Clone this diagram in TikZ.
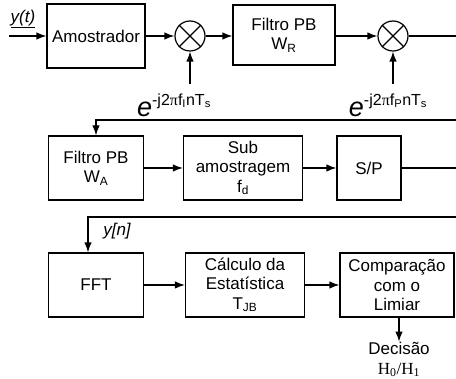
\documentclass[tikz,border=0pt]{standalone}
\usepackage{fontspec}
\setmainfont{Liberation Sans}
\newfontfamily\seriffont{Liberation Serif}
\usetikzlibrary{arrows.meta}

\tikzset{
  block/.style={draw, line width=1.2pt, inner sep=0pt, align=center,
    minimum height=64pt, font=\fontsize{17}{19.5}\selectfont},
  mult/.style={draw, circle, line width=1.2pt, inner sep=0pt, minimum size=30pt},
  flow/.style={line width=1.2pt, -{Latex[length=10pt,width=7.5pt]}},
  wire/.style={line width=1.2pt},
  lbl/.style={inner sep=0pt, font=\fontsize{17}{19}\selectfont},
}
\newcommand{\expo}[1]{{\fontsize{27}{27}\selectfont\itshape e}\raisebox{11pt}{\fontsize{16}{16}\selectfont -j2{\seriffont π}f\textsubscript{#1}nT\textsubscript{s}}}

\begin{document}
\begin{tikzpicture}[x=1pt,y=-1pt]
  \useasboundingbox (0,0) rectangle (456,379);
  % first row
  \node[lbl, font=\fontsize{17}{19}\selectfont\itshape] (yt) at (23,19) {\underline{y(t)}};
  \coordinate (yin) at (9,36);
  \node[block, minimum width=98pt] (amo) at (96,36) {Amostrador};
  \node[mult] (m1) at (190,36) {};
  \node[block, minimum width=102pt, minimum height=60pt] (lpr) at (284,35) {Filtro PB\\W\textsubscript{R}};
  \node[mult] (m2) at (393,36) {};
  \coordinate (out1) at (456,36);
  \node[inner sep=0pt] (e1) at (174,105) {\expo{I}};
  \node[inner sep=0pt] (e2) at (388,105) {\expo{P}};
  \foreach \m in {m1,m2} {
    \draw[line width=1.1pt] (\m.north west) -- (\m.south east);
    \draw[line width=1.1pt] (\m.north east) -- (\m.south west);
  }
  \draw[flow] (yin) -- (amo);
  \draw[flow] (amo) -- (m1);
  \draw[flow] (m1) -- (lpr.west |- m1);
  \draw[flow] (lpr.east |- m2) -- (m2);
  \draw[wire] (m2) -- (out1);
  \draw[flow] (m1.south |- 0,84) -- (m1.south);
  \draw[flow] (m2.south |- 0,84) -- (m2.south);
  % second row
  \coordinate (in1) at (456,120);
  \node[block, minimum width=95pt] (lpa) at (96,168) {Filtro PB\\W\textsubscript{A}};
  \node[block, minimum width=119pt] (sub) at (243,168) {Sub\\amostragem\\f\textsubscript{d}};
  \node[block, minimum width=64pt] (sp) at (369,168) {S/P};
  \coordinate (out2) at (456,168);
  \draw[flow] (in1) -| (lpa.north);
  \draw[flow] (lpa) -- (sub);
  \draw[flow] (sub) -- (sp);
  \draw[wire] (sp) -- (out2);
  % third row
  \coordinate (in2) at (456,217);
  \node[lbl, font=\fontsize{17}{19}\selectfont\itshape] (yn) at (117,231) {y[n]};
  \node[block, minimum width=95pt] (fft) at (96,285) {FFT};
  \node[block, minimum width=119pt] (calc) at (245,285) {Cálculo da\\Estatística\\T\textsubscript{JB}};
  \node[block, minimum width=114pt] (comp) at (397,285) {Comparação\\com o\\Limiar};
  \node[lbl] (dec) at (399,348) {Decisão};
  \node[lbl, font=\fontsize{17}{19}\seriffont] (hyp) at (399,370) {H\textsubscript{0}/H\textsubscript{1}};
  \draw[flow] (in2) -| ([xshift=-8pt]fft.north);
  \draw[flow] (fft) -- (calc);
  \draw[flow] (calc) -- (comp);
  \draw[flow] (comp.south -| dec.north) -- (dec.north);
\end{tikzpicture}
\end{document}
